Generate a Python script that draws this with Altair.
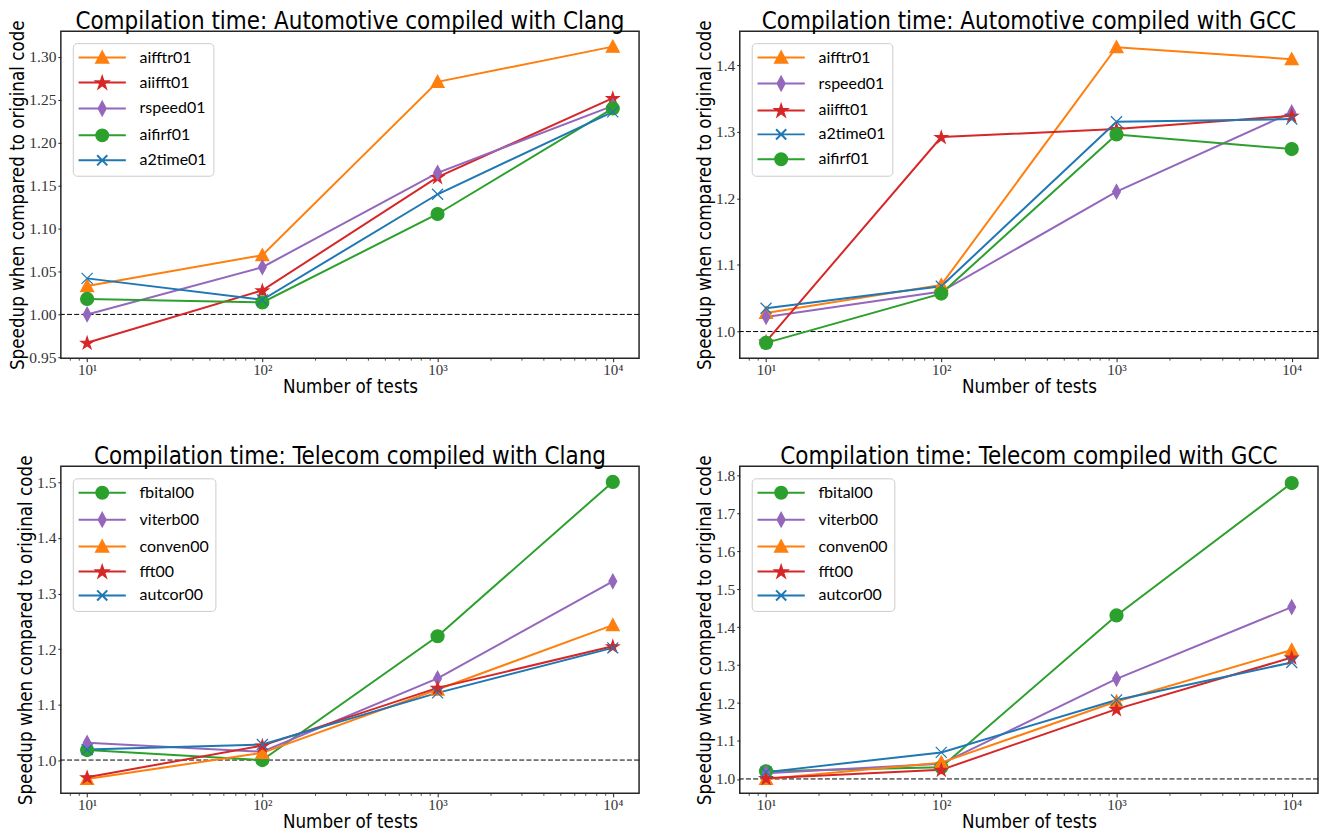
import math
import altair as alt
import pandas as pd

# ---------------- data ----------------
tests = [10, 100, 1000, 10000]
baseline = [1.0]

# Automotive compiled with Clang
ac_names = ["aifftr01", "aiifft01", "rspeed01", "aifirf01", "a2time01"]
ac_aifftr01 = [1.033, 1.069, 1.271, 1.312]
ac_aiifft01 = [0.967, 1.028, 1.160, 1.252]
ac_rspeed01 = [1.000, 1.055, 1.165, 1.243]
ac_aifirf01 = [1.018, 1.014, 1.117, 1.240]
ac_a2time01 = [1.042, 1.017, 1.140, 1.236]

# Automotive compiled with GCC
ag_names = ["aifftr01", "rspeed01", "aiifft01", "a2time01", "aifirf01"]
ag_aifftr01 = [1.028, 1.070, 1.427, 1.409]
ag_rspeed01 = [1.022, 1.060, 1.210, 1.329]
ag_aiifft01 = [0.985, 1.292, 1.304, 1.324]
ag_a2time01 = [1.035, 1.068, 1.315, 1.319]
ag_aifirf01 = [0.983, 1.057, 1.296, 1.274]

# Telecom compiled with Clang
tc_names = ["fbital00", "viterb00", "conven00", "fft00", "autcor00"]
tc_fbital00 = [1.018, 1.000, 1.223, 1.501]
tc_viterb00 = [1.031, 1.015, 1.147, 1.322]
tc_conven00 = [0.966, 1.013, 1.127, 1.243]
tc_fft00 = [0.969, 1.026, 1.130, 1.205]
tc_autcor00 = [1.019, 1.028, 1.121, 1.202]

# Telecom compiled with GCC
tg_names = ["fbital00", "viterb00", "conven00", "fft00", "autcor00"]
tg_fbital00 = [1.020, 1.031, 1.431, 1.780]
tg_viterb00 = [1.015, 1.040, 1.264, 1.453]
tg_conven00 = [1.000, 1.043, 1.204, 1.340]
tg_fft00 = [1.002, 1.024, 1.184, 1.320]
tg_autcor00 = [1.018, 1.070, 1.208, 1.307]

# ---------------- styles ----------------
BLUE, ORANGE, GREEN, RED, PURPLE = "#1f77b4", "#ff7f0e", "#2ca02c", "#d62728", "#9467bd"


def f(v):
    return f"{v:.3f}"


def tri(s=1.0):
    return f"M0,{f(-s)}L{f(s)},{f(0.85 * s)}L{f(-s)},{f(0.85 * s)}Z"


def star(s=1.0):
    pts = []
    for i in range(10):
        r = s if i % 2 == 0 else 0.382 * s
        a = math.radians(i * 36)
        pts.append((r * math.sin(a), -r * math.cos(a) + 0.08 * s))
    return "M" + "L".join(f"{f(x)},{f(y)}" for x, y in pts) + "Z"


def dia(s=1.0):
    return f"M0,{f(-1.1 * s)}L{f(0.6 * s)},0L0,{f(1.1 * s)}L{f(-0.6 * s)},0Z"


def circ(s=1.0):
    return f"M{f(-s)},0A{f(s)},{f(s)} 0 1,0 {f(s)},0A{f(s)},{f(s)} 0 1,0 {f(-s)},0Z"


def xmk(s=1.0):
    k = 0.85 * s
    return f"M{f(-k)},{f(-k)}L{f(k)},{f(k)}M{f(-k)},{f(k)}L{f(k)},{f(-k)}"


L = 3.35
LINE = f"M{-L},0L{L},0"
LEG_S = 0.85

style = {
    "aifftr01": (ORANGE, tri), "aiifft01": (RED, star), "rspeed01": (PURPLE, dia),
    "aifirf01": (GREEN, circ), "a2time01": (BLUE, xmk),
    "fbital00": (GREEN, circ), "viterb00": (PURPLE, dia), "conven00": (ORANGE, tri),
    "fft00": (RED, star), "autcor00": (BLUE, xmk),
}

NARROW = "Liberation Sans Narrow, DejaVu Sans Condensed, Lato"
SANS = "Lato"
SERIF = "Liberation Serif"
INK = "#262626"
W, H = 580, 328
XDOM = [10 ** 0.85, 10 ** 4.15]
MINOR = [m * 10 ** e for e in range(0, 4) for m in range(2, 10) if XDOM[0] <= m * 10 ** e <= XDOM[1]]
YTITLE = "Speedup when compared to original code"
AXT = 18.7


def panel(title, names, series, ydom, yticks, yfmt):
    rows = []
    for n, vals in zip(names, series):
        for t, v in zip(tests, vals):
            rows.append({"tests": t, "speedup": v, "bench": n})
    df = pd.DataFrame(rows)
    colors = [style[n][0] for n in names]
    shapes = [style[n][1]() for n in names]
    leg_shapes = [LINE + style[n][1](LEG_S) for n in names]

    xscale = alt.Scale(type="log", domain=XDOM, nice=False)
    yscale = alt.Scale(domain=ydom, nice=False, zero=False)
    cscale = alt.Scale(domain=names, range=colors)

    base = alt.Chart(df)

    x_major = alt.X("tests:Q", scale=xscale, title="Number of tests",
                    axis=alt.Axis(values=tests, orient="bottom",
                                  labelExpr="'10' + (datum.value == 10 ? '¹' : datum.value == 100 ? '²' : datum.value == 1000 ? '³' : '⁴')",
                                  labelFont=SERIF, labelFontSize=15, labelColor="#333",
                                  tickSize=3.5, tickColor=INK, tickWidth=1, labelPadding=1,
                                  domain=False, grid=False,
                                  titleFont=NARROW, titleFontSize=AXT, titleFontWeight="normal",
                                  titleColor="black", titlePadding=0, labelFlush=False))
    x_minor = alt.X("tests:Q", scale=xscale, title=None,
                    axis=alt.Axis(values=MINOR, orient="bottom", labels=False, domain=False,
                                  grid=False, tickSize=2, tickColor=INK, tickWidth=0.8, title=None))
    x_none = alt.X("tests:Q", scale=xscale, axis=None)

    yaxis = alt.Axis(values=yticks, format=yfmt, domain=False, grid=False,
                     labelFont=SERIF, labelFontSize=15.5, labelColor="#333",
                     tickSize=3, tickColor=INK, tickWidth=1, labelPadding=2,
                     titleFont=NARROW, titleFontSize=AXT, titleFontWeight="normal",
                     titleColor="black", titlePadding=1)
    y_enc = alt.Y("speedup:Q", scale=yscale, title=YTITLE, axis=yaxis)

    rule_df = pd.DataFrame({"speedup": baseline})
    rule = alt.Chart(rule_df).mark_rule(color="black", strokeDash=[5, 2.2], strokeWidth=1).encode(
        y=y_enc)

    lines = base.mark_line(strokeWidth=2).encode(
        x=x_minor, y=y_enc,
        color=alt.Color("bench:N", scale=cscale, legend=None),
        detail="bench:N")

    points = base.mark_point(filled=True, size=170, strokeWidth=1.2, opacity=1).encode(
        x=x_major, y=y_enc,
        color=alt.Color("bench:N", scale=cscale, legend=None),
        stroke=alt.Stroke("bench:N", scale=cscale, legend=None),
        shape=alt.Shape("bench:N", scale=alt.Scale(domain=names, range=shapes), legend=None))

    leg = alt.Legend(title=None, orient="top-left", offset=12, padding=6,
                     labelFont=SANS, labelFontSize=16, labelColor="black",
                     symbolSize=200, symbolStrokeWidth=2, symbolOffset=15, labelOffset=29,
                     rowPadding=5, strokeColor="#cccccc", fillColor="rgba(255,255,255,0.85)",
                     cornerRadius=4, symbolOpacity=1)
    legend_layer = base.mark_point(filled=True, size=200, strokeWidth=2, opacity=1).encode(
        x=x_none, y=y_enc,
        color=alt.Color("bench:N", scale=cscale, legend=leg),
        stroke=alt.Stroke("bench:N", scale=cscale, legend=leg),
        shape=alt.Shape("bench:N", scale=alt.Scale(domain=names, range=leg_shapes), legend=leg),
    ).transform_filter("false")

    return alt.layer(rule, lines, points, legend_layer).resolve_scale(
        color="independent", stroke="independent", shape="independent"
    ).resolve_axis(x="independent").properties(
        width=W, height=H,
        title=alt.TitleParams(title, font=NARROW, fontSize=24, fontWeight="normal", color="black",
                              anchor="middle", frame="group", offset=-14.5))


p1 = panel("Compilation time: Automotive compiled with Clang", ac_names,
           [ac_aifftr01, ac_aiifft01, ac_rspeed01, ac_aifirf01, ac_a2time01],
           [0.949, 1.330], [0.95, 1.00, 1.05, 1.10, 1.15, 1.20, 1.25, 1.30], ".2f")
p2 = panel("Compilation time: Automotive compiled with GCC", ag_names,
           [ag_aifftr01, ag_rspeed01, ag_aiifft01, ag_a2time01, ag_aifirf01],
           [0.960, 1.451], [1.0, 1.1, 1.2, 1.3, 1.4], ".1f")
p3 = panel("Compilation time: Telecom compiled with Clang", tc_names,
           [tc_fbital00, tc_viterb00, tc_conven00, tc_fft00, tc_autcor00],
           [0.940, 1.529], [1.0, 1.1, 1.2, 1.3, 1.4, 1.5], ".1f")
p4 = panel("Compilation time: Telecom compiled with GCC", tg_names,
           [tg_fbital00, tg_viterb00, tg_conven00, tg_fft00, tg_autcor00],
           [0.962, 1.824], [1.0, 1.1, 1.2, 1.3, 1.4, 1.5, 1.6, 1.7, 1.8], ".1f")

indep = dict(color="independent", stroke="independent", shape="independent",
             x="independent", y="independent")
row1 = alt.hconcat(p1, p2, spacing=53).resolve_scale(**indep)
row2 = alt.hconcat(p3, p4, spacing=53).resolve_scale(**indep)
chart = alt.vconcat(row1, row2, spacing=47.5).resolve_scale(**indep).properties(
    padding={"left": 0, "top": 0, "right": 0, "bottom": 0}, background="white"
).configure_view(stroke=INK, strokeWidth=1.5)

chart.save("out.html", embed_options={"renderer": "svg", "actions": False})
